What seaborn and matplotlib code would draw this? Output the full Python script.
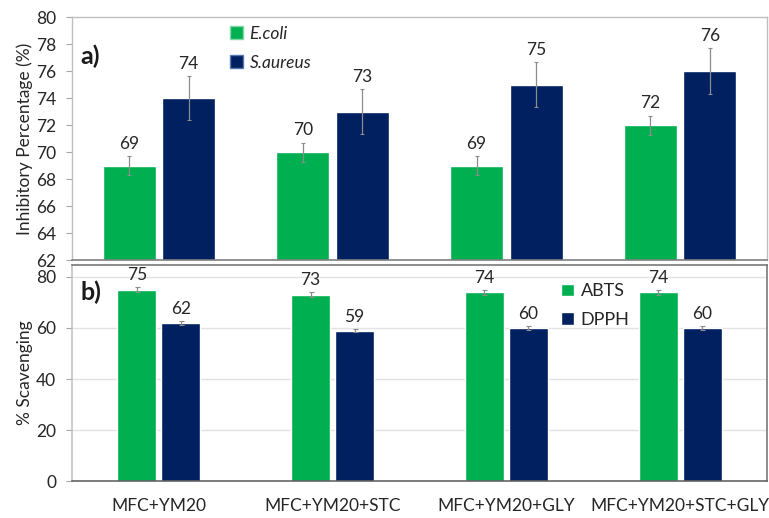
import numpy as np
import pandas as pd
import seaborn as sns
import matplotlib.pyplot as plt
from matplotlib.patches import Patch

# ---- data ----
samples = ["MFC+YM20", "MFC+YM20+STC", "MFC+YM20+GLY", "MFC+YM20+STC+GLY"]

ecoli = [69, 70, 69, 72]
ecoli_err = [0.7, 0.7, 0.7, 0.7]
saureus = [74, 73, 75, 76]
saureus_err = [1.6, 1.65, 1.65, 1.7]

abts = [75, 73, 74, 74]
abts_err = [1.0, 1.0, 1.0, 1.0]
dpph = [62, 59, 60, 60]
dpph_err = [0.7, 0.7, 0.7, 0.7]

a_ticks = [62, 64, 66, 68, 70, 72, 74, 76, 78, 80]
b_ticks = [0, 20, 40, 60, 80]

GREEN = "#00B050"
NAVY = "#002060"

sns.set_theme(style="white")
plt.rcParams["font.family"] = ["Lato", "DejaVu Sans"]
plt.rcParams["text.color"] = "#262626"
plt.rcParams["axes.labelcolor"] = "#262626"
plt.rcParams["xtick.color"] = "#262626"
plt.rcParams["ytick.color"] = "#262626"


def long_frame(names, s1, e1, s2, e2):
    rows = []
    for name, vals, errs in ((names[0], s1, e1), (names[1], s2, e2)):
        for smp, v, e in zip(samples, vals, errs):
            rows.append({"sample": smp, "series": name, "value": v, "err": e})
    return pd.DataFrame(rows)


df_a = long_frame(["E.coli", "S.aureus"], ecoli, ecoli_err, saureus, saureus_err)
df_b = long_frame(["ABTS", "DPPH"], abts, abts_err, dpph, dpph_err)

fig = plt.figure(figsize=(7.69, 5.18), dpi=100)
ax_a = fig.add_axes([0.0936, 0.498, 0.9038, 0.469])
ax_b = fig.add_axes([0.0936, 0.0714, 0.9038, 0.417])


def draw_panel(ax, df, names, width, gap, capsize, label_size):
    pal = {names[0]: GREEN, names[1]: NAVY}
    sns.barplot(data=df, x="sample", y="value", hue="series", order=samples,
                hue_order=names, palette=pal, width=width, gap=gap,
                errorbar=None, saturation=1, legend=False, ax=ax)
    for cont, name in zip(ax.containers, names):
        sub = df[df["series"] == name].set_index("sample").loc[samples]
        xs = [b.get_x() + b.get_width() / 2 for b in cont]
        ys = sub["value"].to_numpy()
        es = sub["err"].to_numpy()
        ax.errorbar(xs, ys, yerr=es, fmt="none", ecolor="#8C8C8C",
                    elinewidth=0.9, capsize=capsize, capthick=0.8, zorder=3)
        for x, y, e in zip(xs, ys, es):
            ax.annotate(f"{y:.0f}", (x, y + e), xytext=(0, 3),
                        textcoords="offset points", ha="center", va="bottom",
                        fontsize=label_size, color="#262626")


# ---- panel a ----
draw_panel(ax_a, df_a, ["E.coli", "S.aureus"], 0.685, 0.11, 1.2, 12.5)
ax_a.set_ylim(62, 80)
ax_a.set_yticks(a_ticks)
ax_a.set_xticks([])
ax_a.set_xlim(-0.5, 3.5)
ax_a.set_xlabel("")
ax_a.set_ylabel("Inhibitory Percentage (%)", fontsize=12.5, labelpad=2)
ax_a.tick_params(axis="y", labelsize=12.5, left=True, length=4.5,
                 width=0.8, color="#A6A6A6", pad=7)
for side in ("top", "right", "left"):
    ax_a.spines[side].set_color("#BFBFBF")
    ax_a.spines[side].set_linewidth(1.0)
ax_a.spines["bottom"].set_color("#7F7F7F")
ax_a.spines["bottom"].set_linewidth(1.2)
ax_a.text(0.012, 0.84, "a)", transform=ax_a.transAxes, fontsize=18,
          fontweight="bold", ha="left", va="center", color="#1a1a1a")
handles_a = [Patch(facecolor=GREEN, edgecolor="#7FD8A6", label="E.coli"),
             Patch(facecolor=NAVY, edgecolor="#5A78B0", label="S.aureus")]
leg_a = ax_a.legend(handles=handles_a, loc="upper left",
                    bbox_to_anchor=(0.213, 1.008), frameon=False,
                    handlelength=0.7, handleheight=0.7, handletextpad=0.4,
                    labelspacing=0.75, fontsize=12.5, borderaxespad=0.2)
for t in leg_a.get_texts():
    t.set_fontstyle("italic")

# ---- panel b ----
draw_panel(ax_b, df_b, ["ABTS", "DPPH"], 0.506, 0.115, 1.8, 12.5)
ax_b.set_ylim(0, 84.7)
ax_b.set_yticks(b_ticks)
ax_b.set_xlim(-0.5, 3.5)
ax_b.set_xlabel("")
ax_b.set_ylabel("% Scavenging", fontsize=12.5, labelpad=2)
ax_b.yaxis.grid(True, color="#E3E3E3", linewidth=1.0)
ax_b.set_axisbelow(True)
ax_b.tick_params(axis="y", labelsize=12.5, left=True, length=4.5,
                 width=0.8, color="#A6A6A6", pad=7)
ax_b.tick_params(axis="x", labelsize=12.5, bottom=False, length=0, pad=12)
ax_b.spines["left"].set_color("#BFBFBF")
ax_b.spines["top"].set_color("#6E6E6E")
ax_b.spines["right"].set_color("#6E6E6E")
ax_b.spines["bottom"].set_color("#595959")
for side in ("top", "right", "bottom", "left"):
    ax_b.spines[side].set_linewidth(1.1)
ax_b.text(0.012, 0.875, "b)", transform=ax_b.transAxes, fontsize=18,
          fontweight="bold", ha="left", va="center", color="#1a1a1a")
handles_b = [Patch(facecolor=GREEN, label="ABTS"),
             Patch(facecolor=NAVY, label="DPPH")]
ax_b.legend(handles=handles_b, loc="upper left", bbox_to_anchor=(0.688, 0.965),
            frameon=False, handlelength=0.7, handleheight=0.7,
            handletextpad=0.4, labelspacing=0.7, fontsize=13,
            borderaxespad=0.2)

fig.savefig("out.png", dpi=100)
